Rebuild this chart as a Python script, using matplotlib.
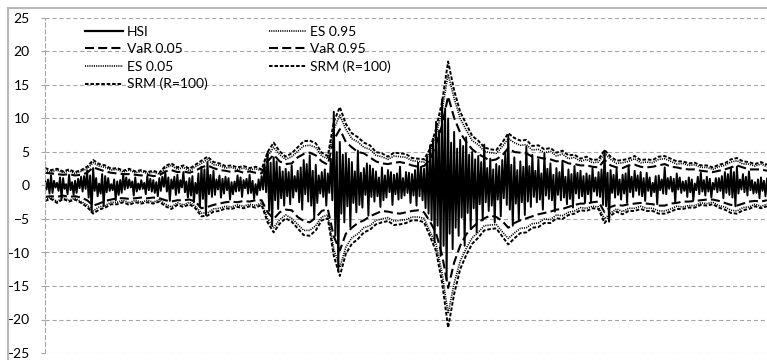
import numpy as np
import matplotlib
matplotlib.use("Agg")
import matplotlib.pyplot as plt
from matplotlib.lines import Line2D

plt.rcParams['font.family'] = ['Lato', 'DejaVu Sans']
plt.rcParams['lines.scale_dashes'] = False

# daily HSI returns (%)
hsi = [
    0.8, -0.6, 0.9, -1.2, 1.5, -1.1, 0.7, -0.3, 0.4, -0.8, 1.2, -1.9, 1.1, -0.5, 0.2, -1.3, 1.6, -0.7, 0.5, -1.4,
    0.7, -1.1, 1.0, -0.4, 1.3, -0.9, 1.4, -0.5, 2.2, -1.8, 1.5, -4.0, 2.6, -0.8, 1.1, -1.6, 0.3, -1.2, 1.7, -3.1,
    1.4, -1.0, 1.1, -0.8, 0.2, -0.7, 0.9, -2.2, 0.6, -1.4, 0.8, -1.1, 1.7, -0.6, 1.2, -0.4, 0.9, -0.3, 0.6, -1.5,
    1.2, -0.9, 0.3, -0.6, 0.8, -0.5, 0.4, -1.3, 1.4, -0.7, 1.0, -0.9, 0.8, -1.1, 0.5, -1.6, 1.1, -0.8, 1.3, -0.2,
    1.9, -0.9, 1.2, -2.3, 0.9, -0.5, 1.3, -1.4, 1.6, -1.1, 0.8, -0.3, 2.0, -1.0, 0.6, -1.8, 1.1, -1.5, 1.4, -2.5,
    0.4, -1.2, 1.8, -3.2, 2.8, -2.0, 2.4, -4.4, 3.5, -1.3, 1.6, -1.7, 2.2, -1.4, 0.9, -0.6, 1.5, -1.8, 1.0, -1.2,
    1.3, -0.7, 1.1, -2.1, 0.5, -1.3, 0.6, -0.9, 1.5, -0.8, 1.2, -1.7, 0.8, -0.4, 1.0, -1.2, 1.6, -1.1, 0.7, -2.0,
    0.2, -1.4, 0.9, -0.7, 1.4, -0.6, 3.1, -1.0, 5.0, -3.8, 3.4, -6.0, 4.2, -2.2, 3.6, -3.5, 2.8, -1.9, 2.1, -3.0,
    2.5, -1.6, 2.0, -2.8, 3.0, -1.8, 1.4, -0.9, 2.2, -2.5, 2.7, -3.6, 3.8, -1.3, 3.2, -2.4, 4.5, -3.0, 2.2, -4.9,
    3.1, -2.6, 1.5, -1.2, 2.0, -1.7, 2.4, -3.0, 1.8, -1.1, 4.0, -2.2, 11.0, -7.5, 5.0, -12.8, 6.5, -4.2, 4.6, -5.5,
    4.8, -3.1, 4.0, -6.2, 3.5, -2.6, 2.1, -4.0, 5.2, -2.9, 1.9, -3.3, 2.6, -1.4, 3.3, -4.5, 3.0, -1.7, 2.5, -2.4,
    2.1, -1.6, 1.2, -3.2, 2.7, -2.2, 1.5, -1.8, 2.3, -1.0, 2.0, -2.9, 1.6, -1.3, 1.8, -2.1, 2.8, -1.9, 1.1, -1.5,
    2.0, -1.1, 1.9, -2.6, 1.7, -1.5, 2.3, -3.0, 3.4, -1.6, 2.8, -2.2, 2.5, -3.4, 4.4, -4.2, 6.0, -5.2, 7.0, -8.5,
    9.5, -6.0, 8.2, -10.5, 12.8, -9.0, 11.5, -14.0, 10.0, -7.2, 6.4, -9.5, 8.0, -6.3, 5.5, -7.5, 6.8, -4.8, 5.9, -9.0,
    7.2, -4.1, 4.6, -6.5, 5.0, -3.4, 3.9, -7.0, 4.4, -2.8, 3.5, -5.2, 6.1, -2.5, 2.6, -3.8, 4.0, -3.0, 2.4, -5.5,
    3.2, -2.1, 2.9, -4.6, 3.8, -1.9, 4.8, -2.9, 7.5, -3.6, 3.1, -6.0, 4.2, -2.7, 2.3, -5.1, 3.6, -2.5, 2.8, -4.4,
    5.8, -2.4, 2.9, -3.2, 4.6, -1.7, 2.2, -2.5, 3.9, -2.1, 1.8, -3.6, 4.8, -1.5, 2.5, -2.0, 3.3, -2.2, 1.6, -3.9,
    2.6, -1.4, 2.0, -2.2, 3.7, -1.8, 1.3, -2.8, 2.4, -2.0, 1.7, -3.3, 2.9, -1.2, 1.9, -1.9, 2.2, -1.6, 1.4, -2.6,
    1.8, -1.3, 1.5, -2.4, 2.6, -0.9, 1.2, -1.5, 2.0, -1.7, 2.4, -2.9, 5.2, -3.1, 1.9, -5.4, 2.3, -1.1, 1.6, -1.8,
    2.5, -1.4, 0.9, -2.1, 1.6, -1.2, 1.8, -2.6, 2.9, -1.0, 1.3, -1.7, 2.2, -0.8, 1.5, -1.4, 2.0, -1.6, 1.1, -2.3,
    1.9, -0.8, 1.2, -1.6, 0.4, -1.0, 1.4, -2.8, 1.5, -0.7, 0.9, -1.2, 2.7, -1.3, 1.1, -0.5, 1.3, -0.9, 1.0, -2.5,
    1.8, -0.6, 1.2, -1.1, 0.6, -0.8, 0.7, -1.7, 1.2, -1.0, 0.9, -2.2, 0.3, -0.7, 1.3, -1.3, 1.9, -0.9, 0.8, -1.5,
    1.3, -0.9, 1.0, -1.8, 0.4, -0.6, 1.1, -1.0, 1.1, -0.8, 1.4, -1.9, 2.0, -1.1, 1.7, -1.4, 2.6, -1.8, 2.0, -3.1,
    2.8, -1.2, 0.9, -0.6, 1.7, -1.0, 1.3, -1.5, 2.1, -0.7, 0.8, -1.2, 0.5, -1.1, 0.9, -1.9, 1.2, -0.8, 0.7, -1.6,
    1.0,
]

# risk measures, one reading every fourth day
var_05 = [
    -1.7, -1.6, -1.7, -1.5, -1.7, -1.6, -1.8, -2.2, -3.0, -2.7, -2.3, -2.1, -1.9, -1.9, -2.0, -1.9, -1.8, -1.9, -1.8, -1.9,
    -2.2, -2.4, -2.2, -2.2, -2.1, -2.4, -3.4, -3.2, -2.9, -2.7, -2.5, -2.4, -2.5, -2.3, -2.4, -2.2, -2.2, -4.0, -5.0, -4.0,
    -3.6, -3.7, -4.7, -5.3, -5.5, -4.8, -3.8, -3.5, -7.6, -9.7, -7.2, -6.3, -5.6, -5.2, -4.6, -4.2, -3.8, -3.9, -4.1, -4.2,
    -4.0, -3.8, -3.7, -4.0, -5.4, -7.1, -10.4, -15.3, -11.5, -9.0, -7.3, -6.3, -5.5, -4.9, -4.5, -4.7, -5.3, -6.3, -5.6, -5.2,
    -4.9, -4.6, -4.3, -4.1, -3.9, -3.6, -3.5, -3.2, -2.9, -2.7, -2.7, -2.5, -2.4, -4.0, -3.2, -2.9, -3.0, -2.8, -2.7, -2.6,
    -2.7, -2.8, -3.0, -3.0, -2.7, -2.6, -2.4, -2.4, -2.3, -2.2, -2.1, -2.1, -2.3, -2.6, -2.9, -3.0, -2.7, -2.4, -2.3, -2.4,
    -2.2,
]
var_95 = [
    1.9, 1.8, 1.7, 1.6, 1.7, 1.5, 1.6, 1.9, 2.7, 2.4, 2.1, 1.9, 1.8, 1.7, 1.7, 1.6, 1.5, 1.6, 1.4, 1.5,
    2.1, 2.3, 2.0, 2.1, 1.9, 2.2, 2.7, 3.0, 2.6, 2.3, 2.2, 2.0, 2.2, 1.9, 2.1, 1.9, 1.8, 3.6, 4.6, 3.6,
    3.2, 3.3, 4.2, 4.7, 4.9, 4.5, 3.6, 3.1, 6.8, 8.4, 6.5, 5.7, 5.0, 4.8, 4.2, 3.6, 3.3, 3.2, 3.4, 3.5,
    3.3, 3.0, 2.8, 2.9, 3.9, 6.1, 9.0, 13.3, 10.1, 7.9, 6.5, 5.4, 4.7, 4.2, 3.7, 3.9, 4.5, 5.6, 5.0, 4.9,
    4.8, 4.3, 4.2, 4.0, 3.9, 3.6, 3.7, 3.3, 3.2, 3.0, 3.0, 2.8, 2.7, 3.8, 3.0, 2.7, 2.6, 3.0, 3.1, 2.8,
    2.7, 2.8, 3.0, 3.2, 2.8, 2.7, 2.5, 2.4, 2.4, 2.2, 2.1, 2.0, 2.2, 2.4, 2.7, 3.0, 2.7, 2.4, 2.4, 2.4,
    2.2,
]
es_05 = [
    -2.1, -1.8, -2.4, -1.8, -2.2, -1.9, -2.4, -2.9, -3.8, -3.2, -3.0, -2.5, -2.5, -2.2, -2.6, -2.2, -2.5, -2.2, -2.5, -2.1,
    -2.8, -3.2, -2.6, -2.9, -2.5, -3.1, -4.1, -4.1, -3.5, -3.4, -3.1, -3.2, -2.9, -3.1, -2.8, -3.0, -2.6, -5.0, -6.3, -5.1,
    -4.4, -4.9, -5.8, -6.7, -6.7, -6.0, -4.7, -4.4, -9.5, -12.2, -9.2, -7.8, -7.2, -6.3, -6.0, -5.2, -5.0, -4.8, -5.3, -5.2,
    -5.1, -4.7, -4.7, -4.9, -6.9, -8.8, -13.1, -19.1, -14.6, -11.3, -9.4, -7.8, -7.0, -6.0, -5.9, -5.8, -6.9, -7.9, -7.1, -6.4,
    -6.3, -5.7, -5.6, -5.0, -5.1, -4.4, -4.5, -4.0, -3.8, -3.3, -3.4, -3.1, -3.2, -5.0, -4.1, -3.5, -3.9, -3.4, -3.4, -3.1,
    -3.4, -3.4, -3.8, -3.8, -3.5, -3.1, -3.2, -3.0, -3.0, -2.6, -2.7, -2.5, -3.0, -3.2, -3.7, -3.8, -3.3, -3.2, -2.8, -3.1,
    -2.8,
]
es_95 = [
    2.3, 2.0, 2.3, 1.9, 2.2, 1.8, 2.1, 2.5, 3.4, 2.9, 2.7, 2.3, 2.4, 2.0, 2.3, 1.9, 2.1, 1.8, 2.0, 1.7,
    2.6, 3.0, 2.4, 2.7, 2.2, 2.8, 3.3, 3.9, 3.1, 3.0, 2.6, 2.7, 2.4, 2.6, 2.3, 2.5, 2.2, 4.4, 5.7, 4.6,
    3.9, 4.3, 5.1, 5.9, 6.0, 5.7, 4.4, 4.0, 8.4, 10.5, 8.4, 7.0, 6.5, 5.7, 5.4, 4.5, 4.3, 3.9, 4.4, 4.3,
    4.2, 3.7, 3.6, 3.5, 4.9, 7.6, 11.2, 16.6, 13.0, 10.0, 8.3, 6.7, 6.1, 5.1, 4.9, 4.8, 5.8, 7.0, 6.4, 6.0,
    6.1, 5.3, 5.4, 4.9, 5.1, 4.4, 4.7, 4.0, 4.2, 3.6, 3.9, 3.4, 3.5, 4.8, 3.9, 3.3, 3.4, 3.6, 4.0, 3.4,
    3.5, 3.4, 3.9, 4.0, 3.6, 3.2, 3.3, 3.0, 3.1, 2.7, 2.7, 2.4, 2.8, 3.0, 3.5, 3.7, 3.2, 3.2, 2.9, 3.2,
    2.8,
]
srm_lo = [
    -2.3, -2.0, -2.6, -2.0, -2.4, -2.1, -2.6, -3.2, -4.2, -3.6, -3.3, -2.8, -2.8, -2.5, -2.9, -2.5, -2.7, -2.5, -2.7, -2.4,
    -3.1, -3.5, -2.9, -3.2, -2.8, -3.4, -4.6, -4.5, -3.9, -3.8, -3.4, -3.5, -3.2, -3.4, -3.1, -3.3, -2.9, -5.5, -7.0, -5.7,
    -4.9, -5.4, -6.4, -7.4, -7.5, -6.7, -5.2, -4.9, -10.5, -13.5, -10.2, -8.7, -8.0, -7.0, -6.6, -5.8, -5.5, -5.3, -5.9, -5.8,
    -5.6, -5.2, -5.2, -5.5, -7.6, -9.8, -14.5, -21.2, -16.2, -12.5, -10.4, -8.7, -7.8, -6.7, -6.5, -6.4, -7.6, -8.8, -7.9, -7.1,
    -7.0, -6.3, -6.2, -5.6, -5.6, -4.9, -5.0, -4.4, -4.2, -3.7, -3.8, -3.4, -3.5, -5.6, -4.5, -3.9, -4.3, -3.8, -3.8, -3.5,
    -3.8, -3.8, -4.2, -4.2, -3.9, -3.5, -3.5, -3.3, -3.3, -2.9, -3.0, -2.8, -3.3, -3.6, -4.1, -4.2, -3.7, -3.5, -3.1, -3.4,
    -3.1,
]
srm_hi = [
    2.6, 2.3, 2.5, 2.1, 2.4, 2.0, 2.3, 2.8, 3.8, 3.2, 3.0, 2.5, 2.6, 2.2, 2.5, 2.1, 2.3, 2.0, 2.2, 1.9,
    2.9, 3.3, 2.7, 3.0, 2.5, 3.1, 3.7, 4.3, 3.5, 3.3, 2.9, 3.0, 2.7, 2.9, 2.6, 2.8, 2.4, 5.0, 6.4, 5.1,
    4.3, 4.8, 5.7, 6.6, 6.7, 6.3, 4.9, 4.4, 9.5, 11.7, 9.2, 7.8, 7.2, 6.4, 6.0, 5.0, 4.8, 4.3, 4.9, 4.8,
    4.7, 4.1, 4.0, 3.9, 5.5, 8.5, 12.5, 18.5, 14.2, 11.0, 9.2, 7.4, 6.7, 5.7, 5.4, 5.3, 6.4, 7.8, 7.1, 6.7,
    6.8, 5.9, 6.0, 5.4, 5.6, 4.9, 5.2, 4.5, 4.6, 4.0, 4.3, 3.8, 3.9, 5.3, 4.3, 3.7, 3.8, 4.0, 4.4, 3.8,
    3.9, 3.8, 4.3, 4.4, 4.0, 3.6, 3.6, 3.3, 3.4, 3.0, 3.0, 2.7, 3.1, 3.3, 3.9, 4.1, 3.6, 3.5, 3.2, 3.5,
    3.1,
]

days = np.arange(len(hsi))
band_days = np.arange(len(srm_hi)) * 4

fig = plt.figure(figsize=(7.67, 3.6), dpi=100)
ax = fig.add_axes([45 / 767, 1 - 353 / 360, 1 - 45 / 767, (353 - 18) / 360])

grid_c = '#a6a6a6'
var_style = dict(color='black', lw=1.5, dashes=(6.5, 3.0))
es_style = dict(color='black', lw=1.2, dashes=(0.8, 0.8))
srm_style = dict(color='black', lw=1.4, dashes=(2.6, 1.3))

h_hsi, = ax.plot(days, hsi, color='black', lw=1.4, label='HSI')
h_var05, = ax.plot(band_days, var_05, label='VaR 0.05', **var_style)
h_var95, = ax.plot(band_days, var_95, label='VaR 0.95', **var_style)
h_es05, = ax.plot(band_days, es_05, label='ES 0.05', **es_style)
h_es95, = ax.plot(band_days, es_95, label='ES 0.95', **es_style)
h_srm_lo, = ax.plot(band_days, srm_lo, label='SRM (R=100)', **srm_style)
h_srm_hi, = ax.plot(band_days, srm_hi, label='SRM (R=100)', **srm_style)

ax.set_xlim(0, len(hsi) - 1)
ax.set_ylim(-25, 25)
ax.set_yticks(np.arange(-25, 26, 5))
ax.set_xticks([])
ax.grid(axis='y', color=grid_c, lw=0.8, linestyle=(0, (3, 2)))
ax.set_axisbelow(True)
for s in ['top', 'right', 'bottom']:
    ax.spines[s].set_visible(False)
ax.spines['left'].set_color(grid_c)
ax.spines['left'].set_linewidth(0.8)
ax.spines['left'].set_linestyle((0, (3, 2)))
ax.tick_params(axis='y', length=3, width=0.8, color=grid_c, pad=8, labelsize=10)

# chart frame (top and left edges visible)
fig.add_artist(Line2D([8 / 767, 1], [1 - 8 / 360, 1 - 8 / 360], color='#b8b8b8', lw=1.5))
fig.add_artist(Line2D([8 / 767, 8 / 767], [0, 1 - 8 / 360], color='#b8b8b8', lw=1.5))

handles = [h_hsi, h_var05, h_es05, h_srm_lo, h_es95, h_var95, h_srm_hi]
leg = ax.legend(handles=handles, labels=[h.get_label() for h in handles], ncol=2,
                loc='upper left', bbox_to_anchor=(85 / 767, 1 - 26 / 360),
                bbox_transform=fig.transFigure, frameon=False, fontsize=10,
                handlelength=2.7, handletextpad=0.3, columnspacing=4.4,
                labelspacing=0.38, borderpad=0, borderaxespad=0)
leg.legend_handles[0].set_linewidth(1.6)

fig.savefig('out.png', dpi=100, facecolor='white')
